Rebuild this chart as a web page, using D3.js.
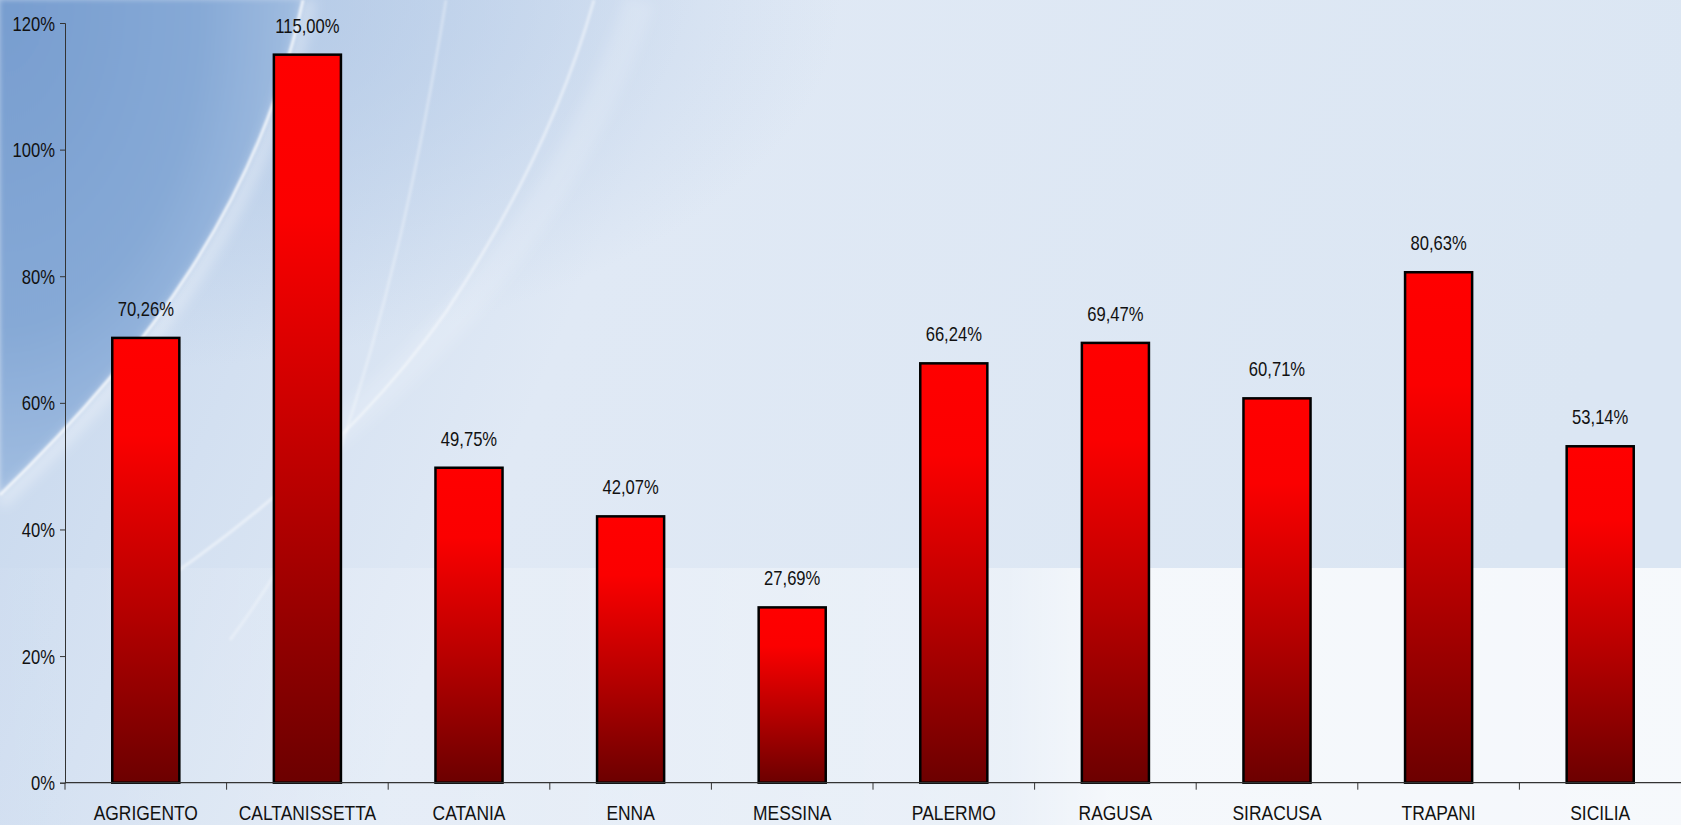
<!DOCTYPE html>
<html>
<head>
<meta charset="utf-8">
<script src="https://cdn.jsdelivr.net/npm/d3@7"></script>
<style>
  body { margin: 0; overflow: hidden; background: #e4ecf6; }
  text { font-family: "Liberation Sans", Arial, sans-serif; fill: #111; }
</style>
</head>
<body>
<svg id="chart"></svg>
<script>
// data
var categories = ["AGRIGENTO", "CALTANISSETTA", "CATANIA", "ENNA", "MESSINA",
                  "PALERMO", "RAGUSA", "SIRACUSA", "TRAPANI", "SICILIA"];
var values = [70.26, 115.00, 49.75, 42.07, 27.69, 66.24, 69.47, 60.71, 80.63, 53.14];
var yTicks = [0, 20, 40, 60, 80, 100, 120];

var W = 1681, H = 825;
var margin = {top: 23, right: 0, bottom: 43, left: 65};
var squeeze = 0.83; // the original text is horizontally condensed

var svg = d3.select("#chart").attr("width", W).attr("height", H);
var defs = svg.append("defs");

// ---- background ----
var bg = defs.append("linearGradient").attr("id", "bg")
    .attr("x1", 0).attr("y1", 0).attr("x2", 1).attr("y2", 0.2);
bg.append("stop").attr("offset", 0).attr("stop-color", "#c3d5ec");
bg.append("stop").attr("offset", 0.4).attr("stop-color", "#e0e9f5");
bg.append("stop").attr("offset", 1).attr("stop-color", "#dbe6f3");

var glow = defs.append("radialGradient").attr("id", "glow")
    .attr("cx", 0.05).attr("cy", 0).attr("r", 0.45);
glow.append("stop").attr("offset", 0).attr("stop-color", "#a9c2e3").attr("stop-opacity", 0.9);
glow.append("stop").attr("offset", 1).attr("stop-color", "#a9c2e3").attr("stop-opacity", 0);

var blue = defs.append("radialGradient").attr("id", "blue")
    .attr("cx", 0).attr("cy", 0).attr("r", 1.1);
blue.append("stop").attr("offset", 0).attr("stop-color", "#779dcf");
blue.append("stop").attr("offset", 0.6).attr("stop-color", "#86a9d6");
blue.append("stop").attr("offset", 1).attr("stop-color", "#a9c3e4");

var low = defs.append("linearGradient").attr("id", "low")
    .attr("x1", 0).attr("y1", 0).attr("x2", 1).attr("y2", 0);
low.append("stop").attr("offset", 0).attr("stop-color", "#fff").attr("stop-opacity", 0.04);
low.append("stop").attr("offset", 0.6).attr("stop-color", "#fff").attr("stop-opacity", 0.4);
low.append("stop").attr("offset", 0.66).attr("stop-color", "#fff").attr("stop-opacity", 0.7);
low.append("stop").attr("offset", 1).attr("stop-color", "#fff").attr("stop-opacity", 0.75);

defs.append("filter").attr("id", "blur").append("feGaussianBlur").attr("stdDeviation", 2.5);
defs.append("filter").attr("id", "blur2").append("feGaussianBlur").attr("stdDeviation", 1.2);
defs.append("filter").attr("id", "blur3").append("feGaussianBlur").attr("stdDeviation", 6);

svg.append("rect").attr("width", W).attr("height", H).attr("fill", "url(#bg)");
svg.append("rect").attr("width", W).attr("height", H).attr("fill", "url(#glow)");
svg.append("path")
    .attr("d", "M0,0 L303,0 C260,200 150,350 0,495 Z")
    .attr("fill", "url(#blue)").attr("filter", "url(#blur)");
svg.append("rect").attr("y", 568).attr("width", W).attr("height", H - 568)
    .attr("fill", "url(#low)");

// light streaks of the swoosh
var streaks = [
  {d: "M310,0 C268,200 160,355 0,503", w: 14, o: 0.3, f: "blur3"},
  {d: "M303,0 C260,200 150,350 0,495", w: 3, o: 0.75, f: "blur2"},
  {d: "M446,0 C420,160 390,300 340,450 C300,540 260,600 230,640", w: 3, o: 0.3, f: "blur2"},
  {d: "M594,0 C560,120 500,230 446,312 C370,420 260,520 120,610", w: 3, o: 0.45, f: "blur2"},
  {d: "M640,0 C580,180 470,330 300,460", w: 30, o: 0.15, f: "blur3"}
];
svg.selectAll(".streak").data(streaks).enter().append("path")
    .attr("class", "streak")
    .attr("d", function(d) { return d.d; })
    .attr("fill", "none").attr("stroke", "#fff")
    .attr("stroke-width", function(d) { return d.w; })
    .attr("stroke-opacity", function(d) { return d.o; })
    .attr("filter", function(d) { return "url(#" + d.f + ")"; });

// ---- bar gradient ----
var barGrad = defs.append("linearGradient").attr("id", "barGrad")
    .attr("x1", 0).attr("y1", 0).attr("x2", 0).attr("y2", 1);
barGrad.append("stop").attr("offset", 0).attr("stop-color", "#ff0000");
barGrad.append("stop").attr("offset", 0.22).attr("stop-color", "#fb0000");
barGrad.append("stop").attr("offset", 0.6).attr("stop-color", "#b80000");
barGrad.append("stop").attr("offset", 1).attr("stop-color", "#6c0000");

// ---- scales ----
var x = d3.scaleBand().domain(categories)
    .range([margin.left, W - margin.right])
    .paddingInner(0.585).paddingOuter(0.2925);
var y = d3.scaleLinear().domain([0, 120])
    .range([H - margin.bottom + 0.7, margin.top]);

var it = d3.formatLocale({decimal: ",", thousands: ".", grouping: [3], currency: ["", "€"]});
var fmt = it.format(".2f");

// ---- bars ----
svg.selectAll(".bar").data(values).enter().append("rect")
    .attr("class", "bar")
    .attr("x", function(d, i) { return x(categories[i]); })
    .attr("y", function(d) { return y(d); })
    .attr("width", x.bandwidth())
    .attr("height", function(d) { return y(0) - y(d); })
    .attr("fill", "url(#barGrad)")
    .attr("stroke", "#000").attr("stroke-width", 2.5);

// value labels
svg.selectAll(".val").data(values).enter().append("text")
    .attr("class", "val")
    .attr("text-anchor", "middle")
    .attr("font-size", 20)
    .attr("transform", function(d, i) {
      return "translate(" + (x(categories[i]) + x.bandwidth() / 2) + "," + (y(d) - 22) + ") scale(" + squeeze + ",1)";
    })
    .text(function(d) { return fmt(d) + "%"; });

// ---- axes ----
var yAxis = svg.append("g")
    .attr("transform", "translate(" + margin.left + ",0)")
    .call(d3.axisLeft(y).tickValues(yTicks).tickSize(5).tickFormat(function(d) { return d + "%"; }));
yAxis.select(".domain").attr("stroke", "#333");
yAxis.selectAll(".tick line").attr("stroke", "#333");
yAxis.selectAll(".tick text")
    .attr("font-size", 20).attr("font-family", null).attr("fill", "#111")
    .attr("x", -10 / squeeze).attr("dy", "0.35em")
    .attr("transform", "scale(" + squeeze + ",1)");

// x axis: ticks at category boundaries
var bounds = d3.range(categories.length + 1).map(function(i) { return x.range()[0] + i * x.step(); });
var xg = svg.append("g").attr("transform", "translate(0," + y(0) + ")");
xg.append("line")
    .attr("x1", x.range()[0]).attr("x2", x.range()[1])
    .attr("stroke", "#333").attr("stroke-width", 1.3);
xg.selectAll(".xt").data(bounds.slice(0, -1)).enter().append("line")
    .attr("class", "xt")
    .attr("x1", function(d) { return d; }).attr("x2", function(d) { return d; })
    .attr("y1", 0).attr("y2", 7)
    .attr("stroke", "#333");
xg.selectAll(".cat").data(categories).enter().append("text")
    .attr("class", "cat")
    .attr("text-anchor", "middle")
    .attr("font-size", 21)
    .attr("transform", function(d) {
      return "translate(" + (x(d) + x.bandwidth() / 2) + ",37) scale(" + squeeze + ",1)";
    })
    .text(function(d) { return d; });
</script>
</body>
</html>
